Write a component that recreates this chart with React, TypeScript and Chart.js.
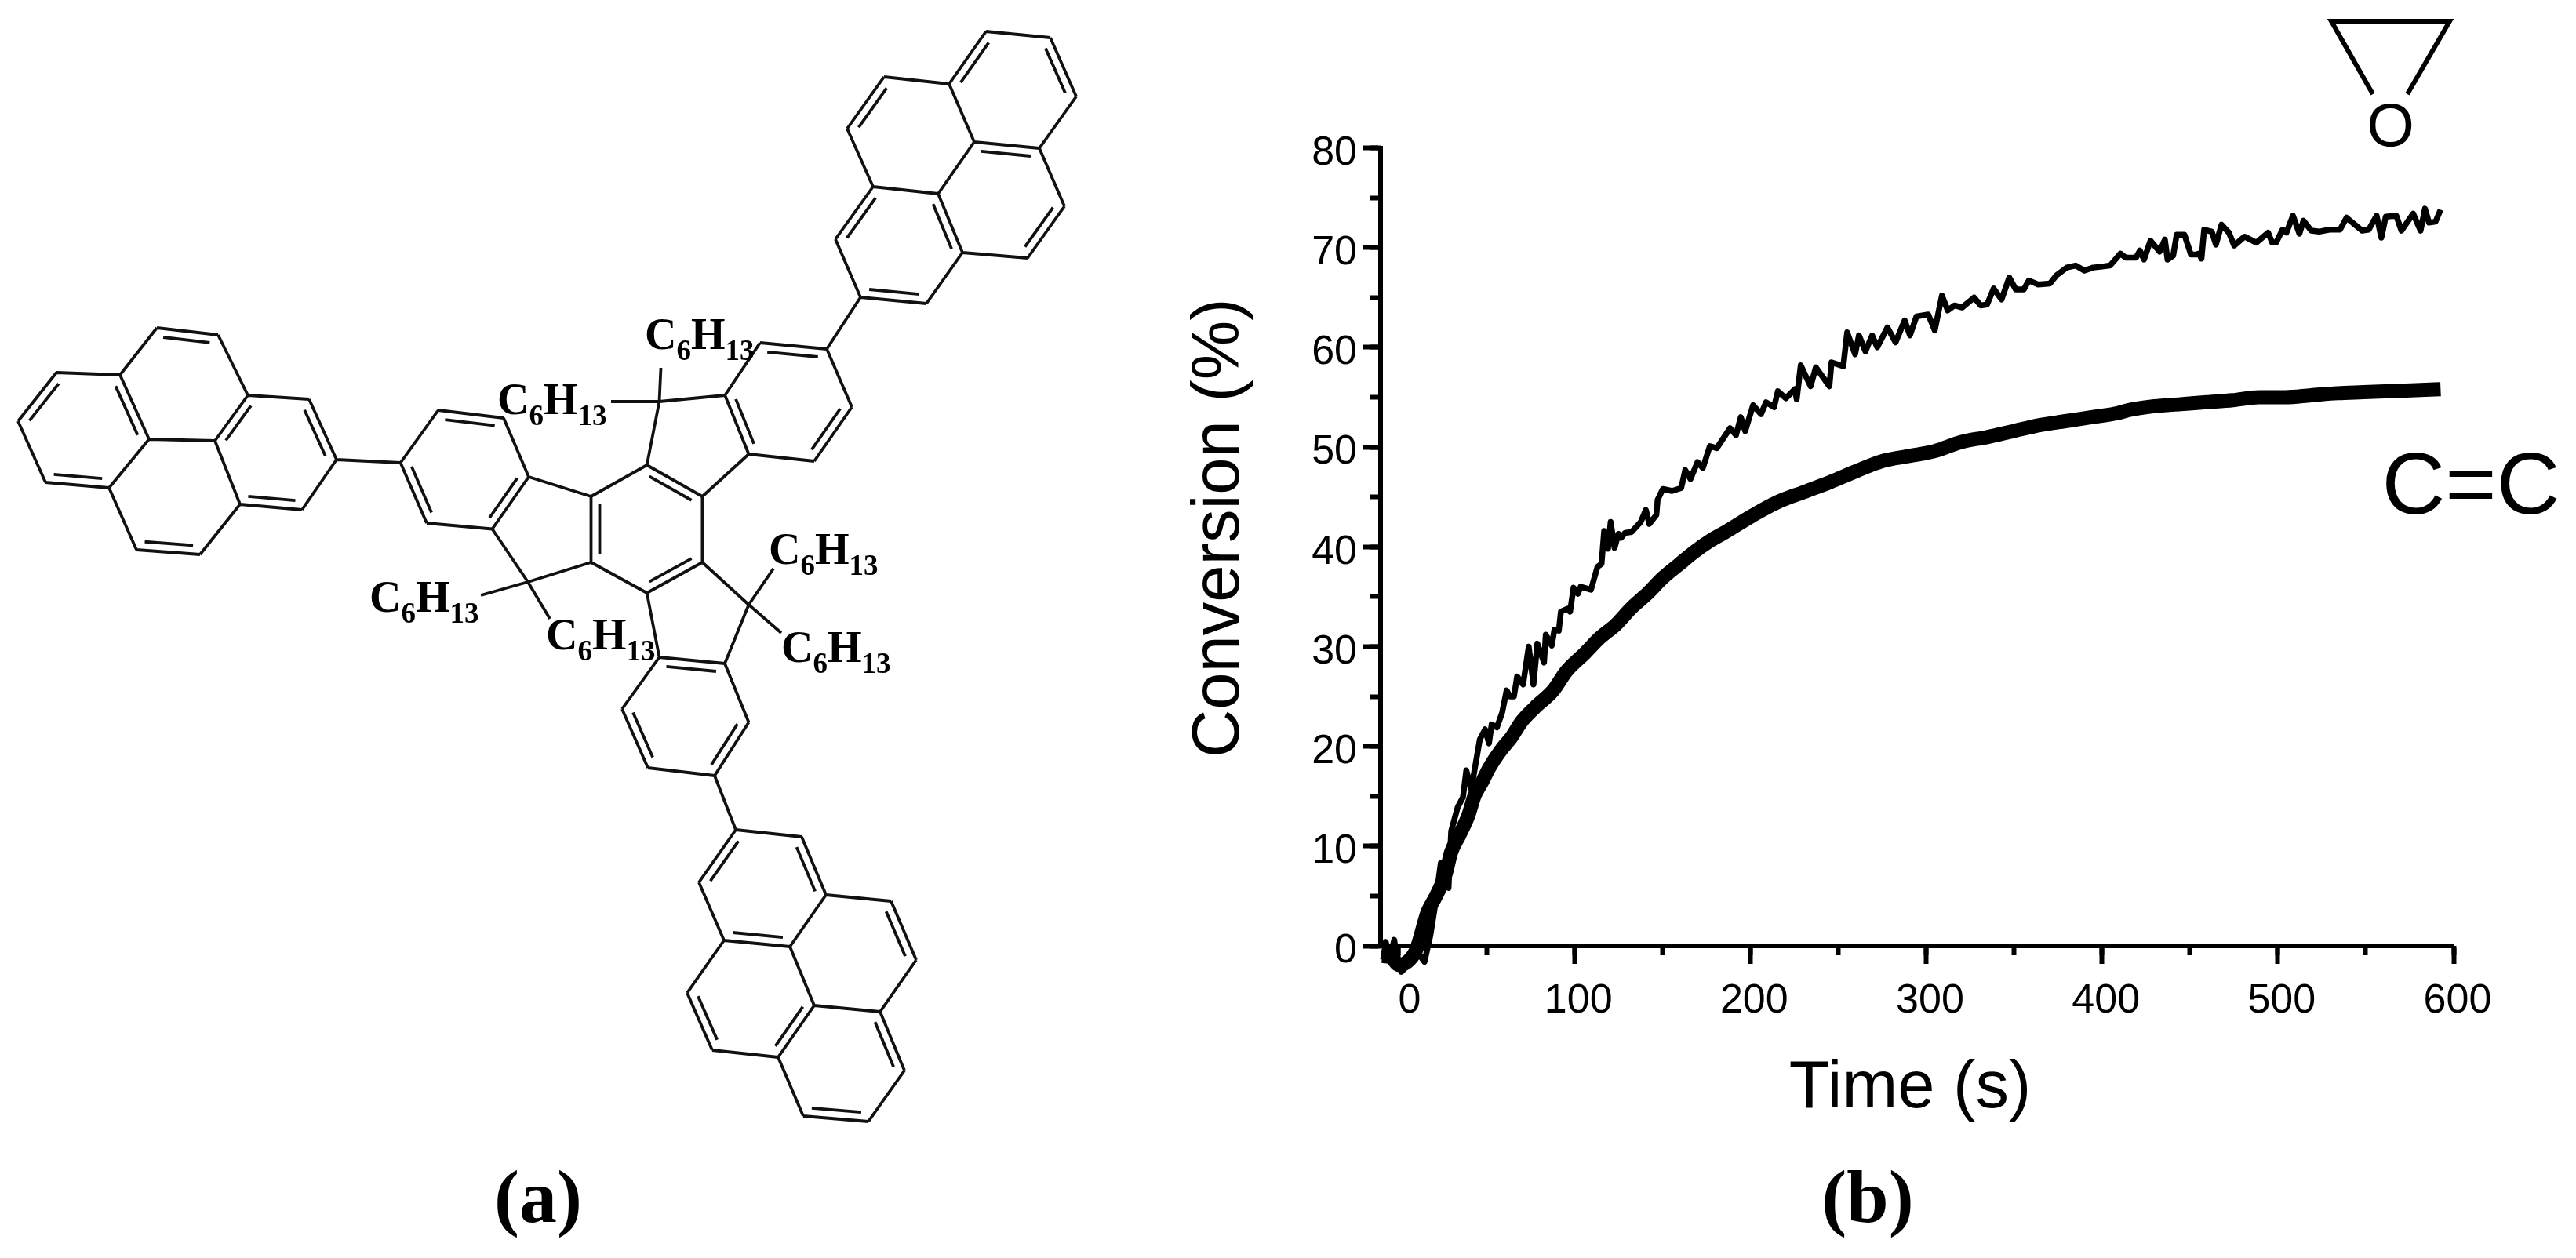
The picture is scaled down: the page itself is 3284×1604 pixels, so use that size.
import React, { useEffect, useRef } from "react";
import { Chart, registerables } from "chart.js";

Chart.register(...registerables);

// ---------- panel (b): kinetics ----------
const epoxyTime = [-8.8,-7.3,-5.1,-2.5,-0.6,1.6,5.4,9,14.7,18,20.2,24,28.4,29.9,33.6,36.6,38.5,41.3,46.2,49.2,51.4,52.9,55.9,58.9,61.4,63.3,65.6,67.4,70.8,74,76.7,78.9,82.7,83.7,87.1,88.6,91.1,92.3,96,97.5,99.5,102,103.5,109.4,113.1,115.4,116.9,119.1,120.6,122.8,125,126.5,128.8,132.5,137.7,140.6,142.6,146.6,147.3,150.3,155.5,160.7,163,166,170,173,177,181,184,188.5,191.9,194.6,197.1,201.6,206.1,209,213.5,215.7,220.2,225.4,226.4,228.7,234.3,237.3,245,246.2,252.9,255.1,259.6,261.8,265.5,269.3,272.2,278,282.6,287.8,290.8,294.5,301.2,304.9,309,312.3,316.1,320.5,327.3,331,334.7,338.4,342.9,347.3,351,355.5,358.4,363.7,370.4,374,380,385,390,395,400.1,404.6,410.5,413.5,419.4,421.6,423.9,427.6,432.8,435.8,437.3,440.5,442.5,446.9,450.6,453.6,455.1,456.6,458.1,462.5,464.8,468,472.2,475.2,481.1,487.8,494.5,496.8,499,502.7,504.9,508.6,512.3,514.6,519,523.5,529.4,535.4,539.1,548,551.7,556.2,558.9,561.4,567.4,570.3,577,581.2,583.7,586,589.7,592.6];
const epoxyValues = [-1.4,0.4,-1.3,0.6,-1.6,-2.6,-1.9,-0.2,-1.6,1,3.4,8.3,5.8,11.5,13.9,14.9,17.6,15.7,20.7,21.7,20.3,22.2,21.9,23.4,25.6,25,25,27,26.2,30,26.2,30.3,28.4,31.2,30.1,31.7,31.6,33.5,33.8,33.5,35.9,35.3,36,35.7,38,38.3,41.6,39.8,42.5,39.9,41.3,40.9,41.4,41.5,42.5,43.7,42.3,43.2,44.7,45.8,45.6,45.9,47.7,46.8,48.5,47.9,50.1,49.9,50.7,51.9,51.2,53,51.6,54.2,53.3,54.5,54,55.6,54.9,55.8,54.8,58.2,56.1,58,56.1,58.5,58.1,61.5,59.3,61.2,59.6,61.2,60,62,60.5,62.7,61.2,63.1,63.3,61.7,65.2,63.7,64.2,64,65,64.2,64.3,65.9,64.8,67,65.8,65.8,66.7,66.3,66.4,67.2,68,68.2,67.7,68,68.1,68.2,69.4,69,69,69.7,68.8,70.7,69.6,70.8,68.8,69.2,71.3,71.3,69.3,69.3,69.4,68.9,71.8,71.6,70.3,72.3,71.5,70.2,71.1,70.5,71.5,70.5,70.5,71.8,71.5,73.2,71.4,72.7,71.7,71.6,71.8,71.8,73,71.7,71.8,73.2,71,73.1,73.2,71.7,73.4,71.7,73.9,72.5,72.6,73.8];

const alkeneTime = [-9,-4,0,5,10,16.5,21,26.9,29.9,34.3,39.5,43.3,47.7,51.4,58.1,64.1,70,77.5,87.9,95.3,105.7,114.6,123.6,132.5,141.4,150.3,159.2,168.2,177.1,186,200.9,215.7,230.6,245.5,260.4,275.2,290.1,305,319.8,334.7,349.6,364.5,379.3,394.2,409,415,429.8,444.7,459.6,474.4,489.3,504.2,519,533.9,548.7,563.6,578.5,592.6];
const alkeneValues = [-1,-1.2,-1.9,-1.6,-0.4,3.4,4.9,7.3,9.4,11,13,15.1,16.5,17.8,19.6,20.9,22.5,23.9,25.6,27.5,29.3,30.9,32.2,33.9,35.3,36.9,38.2,39.5,40.6,41.5,43.1,44.5,45.5,46.5,47.6,48.6,49.1,49.6,50.5,51,51.6,52.2,52.6,53,53.4,53.7,54.1,54.3,54.5,54.7,55,55,55.2,55.4,55.5,55.6,55.7,55.8];

const timeRange = [-10.26, 600];
const conversionRange = [0, 80];

// ---------- panel (a): molecule drawing, in picture units ----------
const atoms: Record<string, [number, number]> = {
  c1:[753.5,633],c2:[824.7,593],c3:[895.4,633],c4:[895.4,717],c5:[824.7,756],c6:[753.5,717],
  q1:[840.5,512],q1a:[842.5,469],q1b:[779,512],
  a1:[924.2,504],a2:[954.5,579],a3:[969,437],a4:[1054,445],a5:[1086,519],a6:[1038,588],
  b1:[674,608],b2:[627.5,674.5],b3:[642,533],b4:[558.7,523],b5:[510.6,590],b6:[544,667],
  q2:[673,742],q2a:[613,759],q2b:[701,789],
  d1:[840.5,838],d2:[924,846],d3:[793,904],d4:[826,979],d5:[954.5,921],d6:[911,989],
  q3:[954.5,771],q3a:[986,725],q3b:[996,807],
  p0:[1097,379],p1:[1065,305],p2:[1113,238],p3:[1196,247],p4:[1227,322],p5:[1181,387],p6:[1080,164],p7:[1127,98],
  p8:[1210,107],p9:[1242,181],p10:[1257,40],p11:[1339,48],p12:[1372,123],p13:[1325,189],p14:[1357,263],p15:[1310,329],
  l0:[429,586],l1:[394,509],l2:[316,504],l3:[274,562],l4:[306,643],l5:[385,650],l6:[278,427],l7:[200,418],
  l8:[153,478],l9:[190,560],l10:[72,475],l11:[23,537],l12:[58,615],l13:[139,622],l14:[174,701],l15:[255,707],
  m0:[938,1058],m1:[1022,1067],m2:[1053,1141],m3:[1007,1207],m4:[923,1199],m5:[891,1125],m6:[1136,1149],m7:[1168,1224],
  m8:[1122,1290],m9:[1038,1282],m10:[1153,1365],m11:[1107,1430],m12:[1024,1423],m13:[992,1348],m14:[908,1339],m15:[876,1266],
};

const bonds = ("c1-c2 c2-c3 c3-c4 c4-c5 c5-c6 c6-c1 c2-q1 q1-a1 a1-a2 a2-c3 q1-q1a q1-q1b a1-a3 a3-a4 a4-a5 a5-a6 a6-a2 " +
  "c1-b1 b1-b2 b2-q2 q2-c6 q2-q2a q2-q2b b1-b3 b3-b4 b4-b5 b5-b6 b6-b2 " +
  "c5-d1 d1-d2 d2-q3 q3-c4 q3-q3a q3-q3b d1-d3 d3-d4 d4-d6 d6-d5 d5-d2 " +
  "a4-p0 p0-p1 p1-p2 p2-p3 p3-p4 p4-p5 p5-p0 p2-p6 p6-p7 p7-p8 p8-p9 p9-p3 p8-p10 p10-p11 p11-p12 p12-p13 p13-p9 p13-p14 p14-p15 p15-p4 " +
  "b5-l0 l0-l1 l1-l2 l2-l3 l3-l4 l4-l5 l5-l0 l2-l6 l6-l7 l7-l8 l8-l9 l9-l3 l8-l10 l10-l11 l11-l12 l12-l13 l13-l9 l13-l14 l14-l15 l15-l4 " +
  "d6-m0 m0-m1 m1-m2 m2-m3 m3-m4 m4-m5 m5-m0 m2-m6 m6-m7 m7-m8 m8-m9 m9-m3 m8-m10 m10-m11 m11-m12 m12-m13 m13-m9 m13-m14 m14-m15 m15-m4").split(" ");

// double bond "a-b-c": inner stroke of a-b, drawn on the side of atom c
const doubleBonds = ("c1-c6-c3 c2-c3-c5 c4-c5-c1 a1-a2-a5 a3-a4-a6 a5-a6-a3 b1-b2-b5 b3-b4-b6 b5-b6-b3 d1-d2-d4 d3-d4-d2 d5-d6-d3 " +
  "p0-p5-p2 p1-p2-p4 p3-p4-p1 p6-p7-p9 p8-p10-p12 p11-p12-p8 p9-p13-p14 p14-p15-p9 " +
  "l0-l1-l3 l2-l3-l0 l4-l5-l2 l6-l7-l9 l8-l9-l11 l10-l11-l13 l12-l13-l10 l14-l15-l9 " +
  "m0-m5-m2 m1-m2-m4 m3-m4-m0 m6-m7-m9 m9-m13-m15 m8-m10-m12 m11-m12-m8 m14-m15-m3").split(" ");

const epoxideLines: [number, number][][] = [
  [[3025, 120], [2972, 27], [3123, 27], [3069, 120]],
];

const alkylLabels: [number, number][] = [
  [822, 445], [634, 528], [980, 719], [996, 844], [696, 828], [471, 780],
];

const freeTexts: { text: string; x: number; y: number; font: string }[] = [
  { text: "C=C", x: 3150, y: 655, font: "112px 'Liberation Sans'" },
  { text: "O", x: 3047.5, y: 186, font: "78px 'Liberation Sans'" },
  { text: "(a)", x: 686, y: 1558, font: "bold 96px 'Liberation Serif'" },
  { text: "(b)", x: 2381, y: 1558, font: "bold 96px 'Liberation Serif'" },
];

const GAP = { x: NaN, y: NaN };

function moleculeSegments() {
  const pts: { x: number; y: number }[] = [];
  for (const b of bonds) {
    const [a, c] = b.split("-");
    pts.push({ x: atoms[a][0], y: atoms[a][1] }, { x: atoms[c][0], y: atoms[c][1] }, GAP);
  }
  return pts;
}

function innerSegments() {
  const pts: { x: number; y: number }[] = [];
  for (const d of doubleBonds) {
    const [an, bn, cn] = d.split("-");
    const [ax, ay] = atoms[an];
    const [bx, by] = atoms[bn];
    const [cx, cy] = atoms[cn];
    const dx = bx - ax, dy = by - ay;
    const len = Math.hypot(dx, dy);
    let nx = -dy / len, ny = dx / len;
    if ((cx - ax) * nx + (cy - ay) * ny < 0) { nx = -nx; ny = -ny; }
    const off = 11, trim = 0.12;
    pts.push(
      { x: ax + dx * trim + nx * off, y: ay + dy * trim + ny * off },
      { x: bx - dx * trim + nx * off, y: by - dy * trim + ny * off },
      GAP
    );
  }
  return pts;
}

const labelShift = {
  id: "labelShift",
  beforeDraw(chart: any) {
    const sx = chart.scales.x, sy = chart.scales.y;
    for (const it of sx.getLabelItems()) {
      if (it.__moved) continue;
      it.__moved = true;
      it.options.translation[0] += it.label === "0" ? 14 : 5;
    }
    for (const it of sy.getLabelItems()) {
      if (it.__moved) continue;
      it.__moved = true;
      it.options.translation[1] += 7;
    }
    const wrap = (scale: any, tx: number, ty: number) => {
      if (scale.__wrapped) return;
      scale.__wrapped = true;
      const orig = scale.drawTitle;
      scale.drawTitle = function (...args: any[]) {
        this.ctx.save();
        this.ctx.translate(tx, ty);
        orig.apply(this, args);
        this.ctx.restore();
      };
    };
    wrap(sx, -9, 0);
    wrap(sy, 0, -24);
  },
};

const moleculeText = {
  id: "moleculeText",
  afterDatasetsDraw(chart: any) {
    const { ctx } = chart;
    const sx = chart.scales.sx, sy = chart.scales.sy;
    ctx.save();
    ctx.fillStyle = "#000";
    ctx.textBaseline = "alphabetic";
    for (const [x, y] of alkylLabels) {
      const px = sx.getPixelForValue(x), py = sy.getPixelForValue(y);
      ctx.textAlign = "left";
      let cur = px;
      const parts: [string, number, number][] = [["C", 56, 0], ["6", 37, 14], ["H", 56, 0], ["13", 37, 14]];
      for (const [t, size, dy] of parts) {
        ctx.font = `bold ${size}px 'Liberation Serif'`;
        ctx.fillText(t, cur, py + dy);
        cur += ctx.measureText(t).width;
      }
    }
    ctx.textAlign = "center";
    for (const t of freeTexts) {
      ctx.font = t.font;
      ctx.fillText(t.text, sx.getPixelForValue(t.x), sy.getPixelForValue(t.y));
    }
    ctx.restore();
  },
};

const W = 3284, H = 1604;
const AXIS_FONT = { family: "'Liberation Sans'", size: 52 };
const TITLE_FONT = { family: "'Liberation Sans'", size: 85 };

export default function App() {
  const mainRef = useRef<HTMLCanvasElement>(null);
  const overlayRef = useRef<HTMLCanvasElement>(null);

  useEffect(() => {
    document.body.style.margin = "0";
    const main = new Chart(mainRef.current as HTMLCanvasElement, {
      type: "scatter",
      plugins: [labelShift],
      data: {
        datasets: [
          {
            label: "Epoxy",
            data: epoxyTime.map((t, i) => ({ x: t, y: epoxyValues[i] })),
            showLine: true, borderColor: "#000", borderWidth: 7.5, pointRadius: 0,
            borderJoinStyle: "round", borderCapStyle: "butt", clip: false, tension: 0,
          },
          {
            label: "C=C",
            data: alkeneTime.map((t, i) => ({ x: t, y: alkeneValues[i] })),
            showLine: true, borderColor: "#000", borderWidth: 18, pointRadius: 0,
            borderJoinStyle: "round", borderCapStyle: "butt", clip: false, cubicInterpolationMode: "monotone",
          },
        ],
      } as any,
      options: {
        animation: false, responsive: false, devicePixelRatio: 1,
        layout: { padding: { left: 1505, right: 156, top: 188.5, bottom: 0 } },
        plugins: { legend: { display: false }, tooltip: { enabled: false }, title: { display: false } },
        scales: {
          x: {
            type: "linear", min: timeRange[0], max: timeRange[1], position: "bottom",
            afterFit: (s: any) => { s.height = 398; },
            grid: { drawOnChartArea: false, tickLength: 23, tickWidth: 6, tickColor: "#000" },
            border: { display: true, color: "#000", width: 6 },
            ticks: { stepSize: 100, includeBounds: false, autoSkip: false, maxRotation: 0, color: "#000", font: AXIS_FONT, padding: 16 },
            title: { display: true, text: "Time (s)", color: "#000", font: TITLE_FONT, padding: { top: 0, bottom: 164 } },
          },
          x2: {
            type: "linear", min: timeRange[0], max: timeRange[1], position: "bottom", weight: -1,
            afterFit: (s: any) => { s.height = 0; },
            grid: { drawOnChartArea: false, tickLength: 12, tickWidth: 6, tickColor: "#000" },
            border: { display: false },
            ticks: { stepSize: 50, includeBounds: false, autoSkip: false, display: false },
          },
          y: {
            type: "linear", min: conversionRange[0], max: conversionRange[1], position: "left",
            afterFit: (s: any) => { s.width = 255; },
            grid: { drawOnChartArea: false, tickLength: 23, tickWidth: 6, tickColor: "#000" },
            border: { display: true, color: "#000", width: 6 },
            ticks: { stepSize: 10, autoSkip: false, color: "#000", font: AXIS_FONT, padding: 7 },
            title: { display: true, text: "Conversion (%)", color: "#000", font: TITLE_FONT, padding: 0 },
          },
          y2: {
            type: "linear", min: conversionRange[0], max: conversionRange[1], position: "left", weight: -1,
            afterFit: (s: any) => { s.width = 0; },
            grid: { drawOnChartArea: false, tickLength: 13, tickWidth: 6, tickColor: "#000" },
            border: { display: false },
            ticks: { stepSize: 5, autoSkip: false, display: false },
          },
        },
      } as any,
    });

    const overlay = new Chart(overlayRef.current as HTMLCanvasElement, {
      type: "scatter",
      plugins: [moleculeText],
      data: {
        datasets: [
          {
            label: "bonds", data: moleculeSegments(), xAxisID: "sx", yAxisID: "sy",
            showLine: true, spanGaps: false, borderColor: "#111", borderWidth: 3.8, pointRadius: 0, clip: false,
          },
          {
            label: "inner", data: innerSegments(), xAxisID: "sx", yAxisID: "sy",
            showLine: true, spanGaps: false, borderColor: "#111", borderWidth: 3.8, pointRadius: 0, clip: false,
          },
          {
            label: "epoxide", data: epoxideLines[0].map(([x, y]) => ({ x, y })), xAxisID: "sx", yAxisID: "sy",
            showLine: true, borderColor: "#000", borderWidth: 6, pointRadius: 0, clip: false, borderJoinStyle: "miter",
          },
        ],
      } as any,
      options: {
        animation: false, responsive: false, devicePixelRatio: 1,
        layout: { padding: 0 },
        plugins: { legend: { display: false }, tooltip: { enabled: false } },
        scales: {
          sx: { type: "linear", min: 0, max: W, display: false },
          sy: { type: "linear", min: 0, max: H, reverse: true, display: false },
        },
      } as any,
    });

    return () => { main.destroy(); overlay.destroy(); };
  }, []);

  const style: React.CSSProperties = { position: "absolute", left: 0, top: 0, display: "block" };
  return (
    <div style={{ position: "relative", width: W, height: H, overflow: "hidden" }}>
      <canvas ref={mainRef} width={W} height={H} style={style} />
      <canvas ref={overlayRef} width={W} height={H} style={style} />
    </div>
  );
}
